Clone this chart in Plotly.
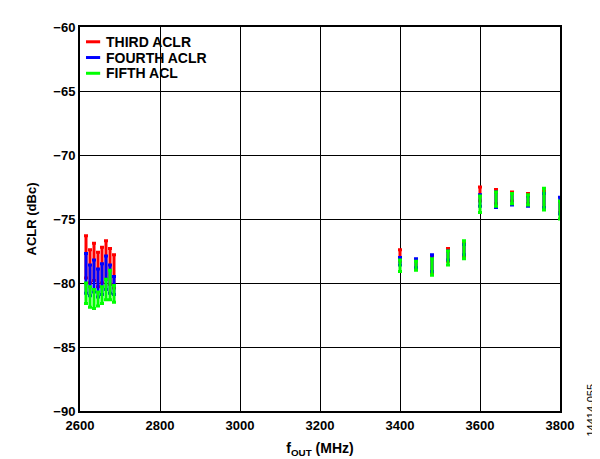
import plotly.graph_objects as go

# ---- data ----
freq_left = [2615, 2625, 2635, 2645, 2655, 2665, 2675, 2685]
freq_right = [3400, 3440, 3480, 3520, 3560, 3600, 3640, 3680, 3720, 3760, 3800]

third_hi = [-76.3, -77.4, -76.9, -77.6, -77.2, -76.7, -77.3, -77.8,
            -77.4, -78.2, -77.9, -77.3, -76.8, -72.5, -72.7, -72.9, -73.0, -72.8, -73.6]
third_lo = [-79.6, -80.0, -79.8, -80.3, -80.0, -79.7, -80.1, -80.4,
            -78.3, -78.9, -79.2, -78.3, -78.0, -73.6, -73.8, -73.6, -73.8, -74.2, -74.5]
fourth_hi = [-77.7, -78.6, -78.2, -78.9, -78.5, -77.9, -78.6, -79.5,
             -78.0, -78.1, -77.8, -77.5, -77.0, -73.1, -72.9, -73.0, -73.2, -73.0, -73.3]
fourth_lo = [-80.8, -81.0, -80.7, -81.1, -80.9, -80.5, -80.8, -80.9,
             -78.6, -78.8, -79.1, -78.2, -77.8, -74.0, -74.1, -73.9, -74.0, -74.1, -74.6]
fifth_hi = [-80.0, -80.3, -80.5, -80.7, -80.3, -79.7, -79.0, -80.2,
            -78.2, -78.3, -78.1, -77.5, -76.7, -73.2, -72.9, -73.0, -73.1, -72.6, -73.6]
fifth_lo = [-81.6, -81.9, -82.0, -81.8, -81.6, -81.3, -81.3, -81.5,
            -79.1, -79.0, -79.4, -78.6, -78.1, -74.5, -74.0, -73.8, -73.9, -74.3, -75.0]

series_names = ["THIRD ACLR", "FOURTH ACLR", "FIFTH ACL"]
series_colors = ["#ff0000", "#0000ff", "#00ff00"]

x_ticks = [2600, 2800, 3000, 3200, 3400, 3600, 3800]
y_ticks = [-90, -85, -80, -75, -70, -65, -60]

freqs = freq_left + freq_right
series = [(third_hi, third_lo), (fourth_hi, fourth_lo), (fifth_hi, fifth_lo)]

font_family = "Liberation Sans, Arial, sans-serif"

fig = go.Figure()
for (hi, lo), name, col in zip(series, series_names, series_colors):
    fig.add_trace(go.Scatter(
        x=freqs, y=lo, mode="markers", name=name,
        marker=dict(size=1, color=col, opacity=0),
        error_y=dict(type="data", symmetric=False,
                     array=[h - l for h, l in zip(hi, lo)],
                     arrayminus=[0] * len(lo),
                     color=col, thickness=3, width=2),
        showlegend=False, hoverinfo="skip"))

# legend drawn inside the plot, top-left, on a white box
fig.add_shape(type="rect", xref="paper", yref="paper",
              x0=0.0, x1=0.28, y0=0.852, y1=1.0,
              fillcolor="white", line=dict(width=0), layer="between")
row_y = [0.9615, 0.9205, 0.8795]
for name, col, yy in zip(series_names, series_colors, row_y):
    fig.add_shape(type="line", xref="paper", yref="paper",
                  x0=0.0125, x1=0.042, y0=yy, y1=yy,
                  line=dict(color=col, width=3))
    fig.add_annotation(text=name, xref="paper", yref="paper",
                       x=0.051, y=yy, xanchor="left", yanchor="middle",
                       showarrow=False,
                       font=dict(size=14, weight="bold", family=font_family))

fig.update_layout(
    width=600, height=459,
    margin=dict(l=72, r=48, t=13, b=56),
    paper_bgcolor="white", plot_bgcolor="white",
    font=dict(family=font_family, color="black", size=12),
    showlegend=False,
    xaxis=dict(range=[2600, 3800], tickvals=x_ticks,
               showgrid=True, gridcolor="black", gridwidth=1,
               showline=True, linecolor="black", linewidth=2, mirror=True,
               ticks="", tickfont=dict(size=13, weight="bold"),
               ticklabelstandoff=1,
               zeroline=False,
               title=dict(text="f<sub>OUT</sub> (MHz)", standoff=12,
                          font=dict(size=14, weight="bold"))),
    yaxis=dict(range=[-90, -60], tickvals=y_ticks,
               showgrid=True, gridcolor="black", gridwidth=1,
               showline=True, linecolor="black", linewidth=2, mirror=True,
               ticks="", tickfont=dict(size=13, weight="bold"),
               ticklabelstandoff=0,
               zeroline=False,
               title=dict(text="ACLR (dBc)", standoff=14,
                          font=dict(size=13, weight="bold"))),
)

fig.add_annotation(text="14414-055", xref="paper", yref="paper",
                   x=1.0, y=0.0, xshift=30, yshift=-28,
                   xanchor="center", yanchor="bottom",
                   textangle=-90, showarrow=False,
                   font=dict(size=11, family=font_family))

fig.write_html("out.html")
